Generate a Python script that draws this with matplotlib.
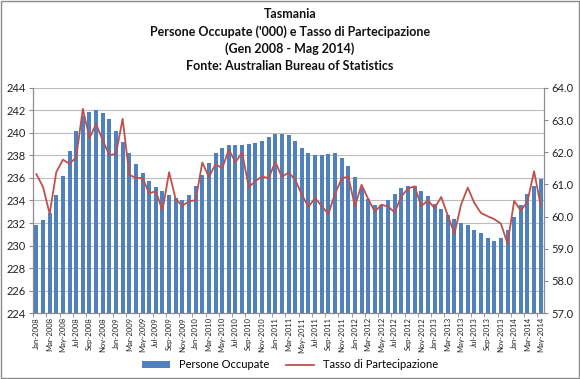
import matplotlib
matplotlib.use("Agg")
import matplotlib.pyplot as plt
from matplotlib.patches import Rectangle
import numpy as np

months_it = ["Jan", "Feb", "Mar", "Apr", "May", "Jun", "Jul", "Aug", "Sep", "Oct", "Nov", "Dec"]
labels = [f"{months_it[m]}-{y}" for y in range(2008, 2015) for m in range(12)][:77]

occupate = [231.8, 232.3, 232.9, 234.5, 236.2, 238.4, 240.2, 241.5, 241.9, 242.0,
            241.8, 241.2, 240.2, 239.2, 238.2, 237.2, 236.4, 235.7, 235.2, 234.8,
            234.5, 234.2, 234.0, 234.5, 235.3, 236.3, 237.3, 238.2, 238.7, 238.9,
            238.9, 238.9, 239.0, 239.1, 239.3, 239.6, 239.9, 239.9, 239.8, 239.3,
            238.7, 238.2, 238.0, 238.0, 238.1, 238.2, 237.8, 237.1, 236.1, 235.1,
            234.1, 233.6, 233.6, 234.0, 234.6, 235.1, 235.3, 235.3, 234.8, 234.4,
            233.7, 233.2, 232.7, 232.4, 232.0, 231.8, 231.4, 231.1, 230.7, 230.4,
            230.7, 231.4, 232.5, 233.6, 234.6, 235.3, 235.9]

partecipazione = [61.32, 60.92, 60.09, 61.38, 61.77, 61.64, 61.84, 63.35, 62.44, 62.88,
                  62.37, 61.91, 61.95, 63.04, 61.30, 61.20, 61.20, 60.72, 60.79, 60.19,
                  61.38, 60.53, 60.34, 60.47, 60.51, 61.68, 61.23, 61.63, 61.50, 62.08,
                  61.69, 61.99, 60.92, 61.10, 61.25, 61.19, 61.70, 61.23, 61.37, 61.15,
                  60.68, 60.30, 60.58, 60.32, 60.08, 60.71, 61.18, 61.25, 60.32, 60.99,
                  60.55, 60.15, 60.37, 60.31, 60.13, 60.63, 60.87, 60.94, 60.32, 60.51,
                  60.26, 60.61, 60.03, 59.47, 60.37, 60.90, 60.42, 60.11, 60.01, 59.92,
                  59.78, 59.16, 60.49, 60.18, 60.47, 61.41, 60.34]

left_ticks = list(range(224, 245, 2))
right_ticks = [57.0, 58.0, 59.0, 60.0, 61.0, 62.0, 63.0, 64.0]

plt.rcParams['font.family'] = ['Lato', 'DejaVu Sans']

fig = plt.figure(figsize=(5.8, 3.79), dpi=100)
fig.patches.append(Rectangle((0.002, 0.003), 0.996, 0.994, transform=fig.transFigure,
                             fill=False, edgecolor='#8c8c8c', linewidth=1.0))
ax = fig.add_axes([0.057, 0.174, 0.881, 0.594])
x = np.arange(len(occupate))
ax.bar(x, np.array(occupate) - 224, bottom=224, width=0.6, color='#4F81BD', zorder=2,
       label='Persone Occupate')
ax.set_xlim(-0.5, len(occupate) - 0.5)
ax.set_ylim(224, 244)
ax.set_yticks(left_ticks)
ax.set_yticklabels([str(t) for t in left_ticks], fontsize=8, color='#222222')
ax.grid(axis='y', color='#bdbdbd', linewidth=0.8, zorder=0)
ax.set_axisbelow(True)
ax.set_xticks(x[::2])
ax.set_xticklabels(labels[::2], rotation=90, fontsize=5.5, color='#222222')
ax.tick_params(axis='x', length=0, pad=3)
ax.set_xticks(np.arange(-0.5, len(occupate), 2), minor=True)
ax.tick_params(axis='x', which='minor', length=3, color='#8c8c8c')
ax.tick_params(axis='y', length=3, color='#8c8c8c', pad=2)
ax.spines['top'].set_visible(False)
for s in ['left', 'right', 'bottom']:
    ax.spines[s].set_color('#8c8c8c')

ax2 = ax.twinx()
ax2.plot(x, partecipazione, color='#C0504D', linewidth=1.3, zorder=3,
         label='Tasso di Partecipazione')
ax2.set_ylim(57, 64)
ax2.set_yticks(right_ticks)
ax2.set_yticklabels([f"{t:.1f}" for t in right_ticks], fontsize=8, color='#222222')
ax2.tick_params(axis='y', length=3, color='#8c8c8c', pad=2)
ax2.spines['top'].set_visible(False)
for s in ['left', 'right', 'bottom']:
    ax2.spines[s].set_color('#8c8c8c')

title = "Tasmania\nPersone Occupate ('000) e Tasso di Partecipazione\n(Gen 2008 - Mag 2014)\nFonte: Australian Bureau of Statistics"
fig.text(0.5, 0.978, title, ha='center', va='top', fontsize=9, fontweight='bold',
         linespacing=1.45, color='#111111')

h1, l1 = ax.get_legend_handles_labels()
h2, l2 = ax2.get_legend_handles_labels()
fig.legend(h1 + h2, l1 + l2, loc='center', bbox_to_anchor=(0.5, 0.037), ncol=2,
           frameon=False, fontsize=8, handlelength=2.5, columnspacing=1.5,
           handleheight=0.5)

fig.savefig("out.png", dpi=100)
